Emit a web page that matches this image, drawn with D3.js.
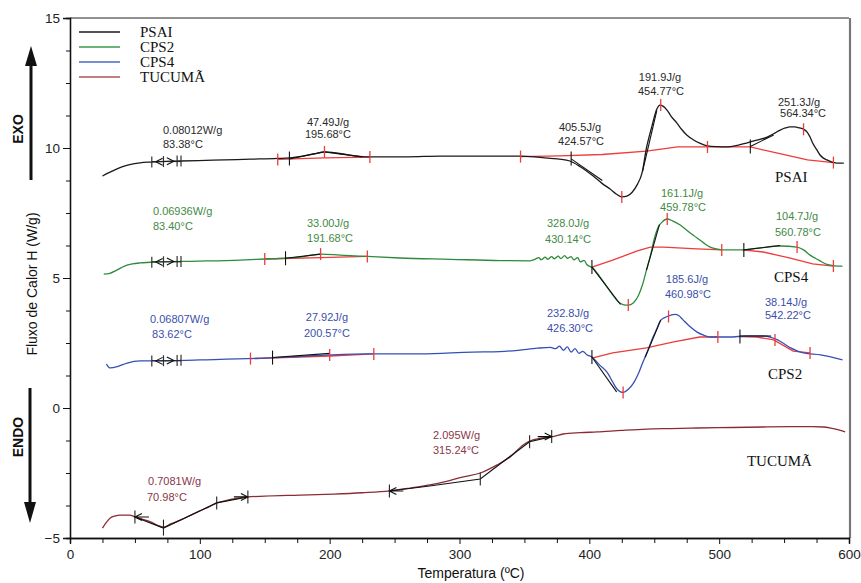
<!DOCTYPE html>
<html><head><meta charset="utf-8">
<script src="https://cdn.jsdelivr.net/npm/d3@7"></script>
<style>body{margin:0;background:#fff} svg{display:block}</style>
</head><body><svg id="c" width="861" height="583"></svg>
<script>
// ---------- DATA ----------
const xTicks = [0,100,200,300,400,500,600];
const yTicks = [-5,0,5,10,15];
const legendNames = ["PSAI","CPS2","CPS4","TUCUMÃ"];

const psai = [[25,8.92],[30,9.05],[35,9.17],[40,9.27],[46,9.36],[54,9.43],[62,9.46],[85,9.5],[110,9.53],[139,9.57],[160,9.6],[169,9.62],[180,9.7],[188,9.78],[196,9.85],[203,9.82],[210,9.77],[223,9.68],[231,9.66],[260,9.66],[285,9.69],[320,9.69],[347,9.69],[360,9.65],[370,9.6],[377,9.57],[385,9.5],[393,9.28],[403,8.92],[410,8.63],[416,8.42],[421,8.22],[425,8.12],[429,8.15],[433,8.3],[437,8.6],[440.6,9.04],[444,10.0],[448,10.8],[452,11.5],[454.4,11.65],[457,11.6],[459.8,11.46],[463,11.22],[467.5,10.96],[471,10.72],[475,10.5],[480,10.32],[485,10.19],[491,10.08],[498,10.05],[506,10.04],[514,10.1],[521,10.19],[529,10.3],[537,10.42],[542,10.55],[547,10.69],[551,10.77],[554.6,10.81],[558,10.81],[562,10.77],[565,10.72],[567.6,10.62],[570,10.42],[572,10.19],[575,9.95],[577.7,9.73],[580,9.62],[583,9.54],[587,9.46],[591,9.42],[596,9.42]];

const green = [[26,5.15],[30,5.17],[36,5.3],[42,5.46],[48,5.54],[54,5.58],[69,5.62],[100,5.65],[131,5.69],[150,5.73],[165,5.76],[177,5.8],[193,5.92],[208,5.88],[229,5.83],[254,5.77],[293,5.72],[331,5.67],[354,5.66],[358,5.72],[361,5.78],[363,5.7],[366,5.8],[368,5.72],[371,5.82],[373,5.74],[376,5.84],[378,5.75],[381,5.86],[383,5.76],[386,5.82],[388,5.7],[391,5.78],[393,5.62],[396,5.68],[398,5.52],[403,5.38],[408,5.05],[413,4.7],[418,4.35],[422,4.1],[426,3.98],[430,3.96],[434,4.05],[438,4.35],[441,4.75],[444,5.3],[447,5.85],[450,6.5],[453,6.95],[456,7.15],[460,7.27],[464,7.2],[470,7.04],[476,6.8],[483,6.54],[488,6.35],[493,6.19],[498,6.12],[502,6.08],[518,6.08],[530,6.15],[547,6.23],[560,6.19],[565,6.08],[570,5.88],[577,5.68],[583,5.52],[589,5.47],[595,5.46]];

const blue = [[28,1.69],[31,1.54],[37,1.6],[44,1.73],[54,1.81],[64,1.81],[100,1.85],[150,1.92],[175,1.98],[200,2.04],[230,2.08],[270,2.08],[310,2.15],[331,2.17],[345,2.22],[360,2.3],[370,2.33],[374,2.28],[377,2.38],[380,2.22],[383,2.35],[386,2.15],[389,2.28],[392,2.1],[395,2.18],[398,2.05],[402,1.96],[408,1.65],[414,1.35],[418,1.0],[421,0.75],[424,0.62],[426,0.6],[430,0.72],[434,0.96],[438,1.35],[441,1.73],[445,2.2],[448,2.6],[452,3.05],[455,3.38],[460,3.52],[466,3.6],[469,3.55],[472,3.4],[477,3.15],[483,2.92],[488,2.8],[493,2.73],[508,2.73],[521,2.77],[534,2.77],[540,2.72],[545,2.62],[550,2.47],[555,2.31],[560,2.2],[565,2.12],[578,2.04],[595,1.85]];

const tucuma = [[25,-4.62],[28,-4.4],[31,-4.23],[35,-4.15],[38.5,-4.12],[46,-4.12],[50,-4.19],[56,-4.28],[62,-4.38],[67,-4.5],[72,-4.58],[78,-4.45],[85,-4.31],[92,-4.15],[100,-3.96],[107,-3.8],[113,-3.65],[120,-3.56],[126,-3.5],[137,-3.42],[150,-3.39],[177,-3.35],[203,-3.31],[225,-3.26],[246,-3.19],[262,-3.08],[277,-2.96],[290,-2.82],[303,-2.65],[316,-2.5],[329,-2.19],[339,-1.88],[349,-1.42],[354,-1.27],[364,-1.15],[372,-1.1],[380,-1.0],[393,-0.95],[406,-0.92],[425,-0.86],[444,-0.81],[463,-0.79],[483,-0.77],[510,-0.75],[534,-0.73],[555,-0.72],[572,-0.72],[580,-0.73],[586,-0.77],[592,-0.84],[597,-0.92]];

// analysis marks (data coordinates: temperature, heat flow)
const psaiRedLines = [[[160,9.56],[196,9.62],[231,9.65]],[[347,9.67],[377,9.7],[410,9.75],[444,9.88],[468,10.04],[524,10.04],[545,9.8],[568,9.54],[588,9.44]]];
const psaiRedTicks = [[160,9.56],[196,9.85],[231,9.65],[347,9.67],[425,8.12],[455,11.65],[491,10.04],[565,10.72],[588,9.44]];
const psaiBlackTicks = [[169,9.6],[386,9.6],[524,10.06]];
const psaiTangents = [[[169,9.58],[196,9.85],[225,9.66]],[[386,9.58],[410,8.75]],[[441,9.1],[452,11.45]],[[524,10.06],[542,10.5]]];

const greenRedLines = [[[150,5.73],[193,5.78],[229,5.83]],[[402,5.42],[418,5.69],[437,6.04],[447,6.19],[457,6.19],[483,6.12],[502,6.08]],[[518,6.08],[534,6.0],[554,5.77],[572,5.54],[588,5.46]]];
const greenRedTicks = [[150,5.73],[193,5.92],[229,5.83],[430,3.96],[460,7.27],[502,6.08],[560,6.19],[588,5.46]];
const greenBlackTicks = [[166,5.76],[402,5.42],[519,6.08]];
const greenTangents = [[[166,5.76],[193,5.92]],[[402,5.42],[424,3.98]],[[444,5.3],[454,7.05]],[[519,6.08],[547,6.25]]];

const blueRedLines = [[[139,1.9],[200,2.0],[234,2.08]],[[402,1.92],[418,2.12],[444,2.31],[465,2.54],[485,2.73],[499,2.73]],[[516,2.75],[529,2.73],[542,2.62],[557,2.19],[570,2.12]]];
const blueRedTicks = [[139,1.9],[200,2.04],[234,2.08],[426,0.6],[461,3.52],[499,2.73],[543,2.62],[570,2.12]];
const blueBlackTicks = [[156,1.94],[402,1.96],[516,2.75]];
const blueTangents = [[[156,1.94],[200,2.1]],[[402,1.96],[421,0.62]],[[443,1.95],[455,3.38]],[[516,2.77],[540,2.77]]];

const glassTemps = [63,72,82.5,85.5];
const glassArrows = [[66,-1],[80,1]];

const tucumaTangents = [[[50,-4.19],[72,-4.62],[113,-3.65],[137,-3.42]],[[246,-3.19],[277,-3.0],[316,-2.73],[334,-2.05],[354,-1.3],[371,-1.1]]];
const tucumaBlackTicks = [[50,-4.19],[72,-4.6],[113,-3.65],[137,-3.42],[246,-3.19],[316,-2.73],[354,-1.3],[371,-1.1]];
const tucumaArrows = [[50,-4.19,-1],[137,-3.42,1],[246,-3.19,-1],[371,-1.1,1]];

const psaiNotes = [["0.08012W/g",71.6,10.69,"start"],["83.38°C",71.6,10.15,"start"],["47.49J/g",198.7,11.0,"middle"],["195.68°C",198.7,10.54,"middle"],["405.5J/g",392.8,10.81,"middle"],["424.57°C",393.6,10.27,"middle"],["191.9J/g",454.4,12.73,"middle"],["454.77°C",455.2,12.19,"middle"],["251.3J/g",561.5,11.77,"middle"],["564.34°C",564.6,11.35,"middle"]];
const greenNotes = [["0.06936W/g",63.9,7.58,"start"],["83.40°C",63.9,7.0,"start"],["33.00J/g",198.7,7.12,"middle"],["191.68°C",200.3,6.54,"middle"],["328.0J/g",383.6,7.12,"middle"],["430.14°C",383.6,6.5,"middle"],["161.1J/g",471.4,8.27,"middle"],["459.78°C",472.2,7.73,"middle"],["104.7J/g",560,7.38,"middle"],["560.78°C",560.7,6.77,"middle"]];
const blueNotes = [["0.06807W/g",61.6,3.42,"start"],["83.62°C",63.2,2.85,"start"],["27.92J/g",197.9,3.5,"middle"],["200.57°C",197.9,2.88,"middle"],["232.8J/g",383.6,3.65,"middle"],["426.30°C",385.1,3.08,"middle"],["185.6J/g",475.2,4.96,"middle"],["460.98°C",476,4.38,"middle"],["38.14J/g",551.5,4.08,"middle"],["542.22°C",553,3.58,"middle"]];
const tucumaNotes = [["0.7081W/g",60.1,-2.81,"start"],["70.98°C",59.3,-3.42,"start"],["2.095W/g",279.6,-1.04,"start"],["315.24°C",279.6,-1.62,"start"]];
const curveLabels = [["PSAI",543,8.88],["CPS4",542.2,5.04],["CPS2",537.6,1.31],["TUCUMÃ",521.4,-2.04]];

// ---------- DRAW ----------
const svg = d3.select("#c");
const x = d3.scaleLinear().domain([0,600]).range([70,849]);
const y = d3.scaleLinear().domain([-5,15]).range([538,18]);
const line = d3.line().x(d=>x(d[0])).y(d=>y(d[1]));
const smooth = d3.line().x(d=>x(d[0])).y(d=>y(d[1])).curve(d3.curveMonotoneX);

const RED = "#ee3b3b";
const cols = {psai:"#1a1a1a", green:"#2f8a3c", blue:"#3550b5", tucuma:"#8b2c34"};
const noteCols = {psai:"#2a2a2a", green:"#3f8a44", blue:"#3b4faa", tucuma:"#8a3646"};
const legendCols = ["#1a1a1a","#3a9a4a","#4a68c4","#b05555"];

// frame
svg.append("line").attr("x1",x(0)).attr("x2",x(600)).attr("y1",y(15)).attr("y2",y(15)).attr("stroke","#222").attr("stroke-width",1);
svg.append("line").attr("x1",x(600)+1).attr("x2",x(600)+1).attr("y1",y(15)).attr("y2",y(-5)).attr("stroke","#777").attr("stroke-width",2.2);

// axes
const fontAx = "Liberation Sans, Arial, sans-serif";
const gx = svg.append("g").attr("transform",`translate(0,${y(-5)})`)
  .call(d3.axisBottom(x).tickValues(xTicks).tickSize(6).tickPadding(3).tickFormat(d3.format("d")));
const gxm = svg.append("g").attr("transform",`translate(0,${y(-5)})`)
  .call(d3.axisBottom(x).tickValues(d3.range(25,600,25).filter(v=>v%100)).tickSize(5).tickFormat(""));
const gy = svg.append("g").attr("transform",`translate(${x(0)},0)`)
  .call(d3.axisLeft(y).tickValues(yTicks).tickSize(7).tickPadding(3));
const gym = svg.append("g").attr("transform",`translate(${x(0)},0)`)
  .call(d3.axisLeft(y).tickValues(d3.range(-5,15.01,1.25).filter(v=>v%5)).tickSize(4).tickFormat(""));
[gx,gxm,gy,gym].forEach(g=>{
  g.selectAll("path").attr("stroke","#111").attr("stroke-width",1.3);
  g.selectAll("line").attr("stroke","#111");
  g.selectAll("text").attr("font-family",fontAx).attr("font-size",13.5).attr("fill","#222");
});
gx.selectAll("text").attr("dy","0.9em");

// titles
svg.append("text").attr("x",471).attr("y",578).attr("text-anchor","middle")
  .attr("font-family",fontAx).attr("font-size",14).attr("fill","#111").text("Temperatura (ºC)");
svg.append("text").attr("transform","translate(37,284) rotate(-90)").attr("text-anchor","middle")
  .attr("font-family",fontAx).attr("font-size",14).attr("fill","#111").text("Fluxo de Calor H (W/g)");
svg.append("text").attr("transform","translate(23,129) rotate(-90)").attr("text-anchor","middle")
  .attr("font-family",fontAx).attr("font-size",14).attr("font-weight","bold").attr("fill","#111").text("EXO");
svg.append("text").attr("transform","translate(23,437) rotate(-90)").attr("text-anchor","middle")
  .attr("font-family",fontAx).attr("font-size",14).attr("font-weight","bold").attr("fill","#111").text("ENDO");
// EXO / ENDO arrows
svg.append("line").attr("x1",31).attr("x2",31).attr("y1",180).attr("y2",62).attr("stroke","#111").attr("stroke-width",3);
svg.append("path").attr("d","M31,46 L25,66 L37,66 Z").attr("fill","#111");
svg.append("line").attr("x1",30).attr("x2",30).attr("y1",388).attr("y2",505).attr("stroke","#111").attr("stroke-width",3);
svg.append("path").attr("d","M30,523 L24,502 L36,502 Z").attr("fill","#111");

// legend
const lg = svg.append("g");
legendNames.forEach((n,i)=>{
  const yy = 32 + i*15;
  lg.append("line").attr("x1",79).attr("x2",120).attr("y1",yy).attr("y2",yy).attr("stroke",legendCols[i]).attr("stroke-width",1.5);
  lg.append("text").attr("x",140).attr("y",yy).attr("dy","0.35em").attr("font-family","Liberation Serif, Times New Roman, serif")
    .attr("font-size",15).attr("fill","#111").text(n);
});

function valAt(series,t){
  for(let i=1;i<series.length;i++){
    if(series[i][0]>=t){const a=series[i-1],b=series[i];return a[1]+(b[1]-a[1])*(t-a[0])/(b[0]-a[0]);}
  }
  return series[series.length-1][1];
}
function vtick(g,p,h,c,w){
  g.append("line").attr("x1",x(p[0])).attr("x2",x(p[0])).attr("y1",y(p[1])-h).attr("y2",y(p[1])+h).attr("stroke",c).attr("stroke-width",w||1.2);
}
function chevron(g,tx,ty,dir,shaft){
  const X=x(tx),Y=y(ty);
  let d=`M${X-dir*7},${Y-3.5} L${X},${Y} L${X-dir*7},${Y+3.5}`;
  if(shaft) d+=` M${X},${Y} L${X-dir*shaft},${Y}`;
  g.append("path").attr("d",d).attr("fill","none").attr("stroke","#111").attr("stroke-width",1.1);
}

// red baselines first (under curves)
const annG = svg.append("g");
[psaiRedLines,greenRedLines,blueRedLines].forEach(rl=>{
  rl.forEach(l=>annG.append("path").attr("d",line(l)).attr("fill","none").attr("stroke",RED).attr("stroke-width",1.3));
});

// curves
const seriesList = [[psai,cols.psai],[green,cols.green],[blue,cols.blue],[tucuma,cols.tucuma]];
seriesList.forEach(s=>{
  svg.append("path").attr("d",smooth(s[0])).attr("fill","none").attr("stroke",s[1]).attr("stroke-width",1.3).attr("stroke-linejoin","round");
});

// tangents & ticks over curves
const topG = svg.append("g");
[[psaiTangents,psaiRedTicks,psaiBlackTicks,psai],[greenTangents,greenRedTicks,greenBlackTicks,green],[blueTangents,blueRedTicks,blueBlackTicks,blue]].forEach(a=>{
  a[0].forEach(l=>topG.append("path").attr("d",line(l)).attr("fill","none").attr("stroke","#111").attr("stroke-width",1.1));
  a[1].forEach(p=>vtick(topG,p,6,RED,1.3));
  a[2].forEach(p=>vtick(topG,p,7,"#111",1.1));
  const s=a[3];
  glassTemps.forEach(t=>vtick(topG,[t,valAt(s,t)],5.5,"#333",1.2));
  topG.append("line").attr("x1",x(glassTemps[0])).attr("x2",x(glassTemps[3])).attr("y1",y(valAt(s,72))).attr("y2",y(valAt(s,72))).attr("stroke","#222").attr("stroke-width",1);
  glassArrows.forEach(g=>chevron(topG,g[0],valAt(s,g[0]),g[1],0));
});
tucumaTangents.forEach(l=>topG.append("path").attr("d",line(l)).attr("fill","none").attr("stroke","#111").attr("stroke-width",1.1));
tucumaBlackTicks.forEach((p,i)=>vtick(topG,p,i===1?8:6.5,"#222",1.1));
tucumaArrows.forEach(a=>chevron(topG,a[0],a[1],a[2],14));

// notes
const noteFont = "Liberation Sans, Arial, sans-serif";
[[psaiNotes,noteCols.psai],[greenNotes,noteCols.green],[blueNotes,noteCols.blue],[tucumaNotes,noteCols.tucuma]].forEach(a=>{
  a[0].forEach(n=>svg.append("text").attr("x",x(n[1])).attr("y",y(n[2])).attr("dy","0.35em").attr("text-anchor",n[3])
    .attr("font-family",noteFont).attr("font-size",11).attr("fill",a[1]).text(n[0]));
});
curveLabels.forEach(c=>svg.append("text").attr("x",x(c[1])).attr("y",y(c[2])).attr("dy","0.35em")
  .attr("font-family","Liberation Serif, Times New Roman, serif").attr("font-size",15).attr("fill","#111").text(c[0]));
</script></body></html>
